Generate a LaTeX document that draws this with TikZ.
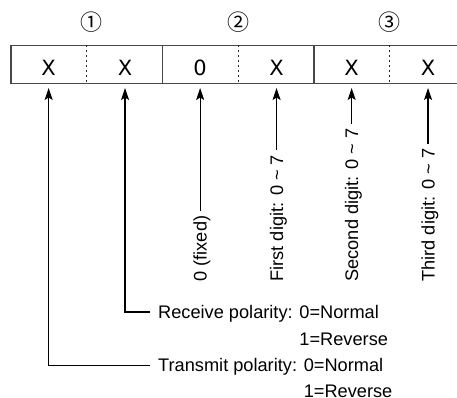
\documentclass[tikz,border=0pt]{standalone}
\usepackage{fontspec}
\setmainfont{Liberation Sans}
\newfontfamily\dvfont{DejaVu Sans}
\newfontfamily\cjkfont{Noto Sans CJK JP}
\usetikzlibrary{arrows.meta,calc}
\tikzset{
  grp/.style={draw=black!72, line width=1.3pt, minimum width=151.5pt, minimum height=37.8pt, inner sep=0pt},
  sepline/.style={draw=black!85, line width=1.2pt, dash pattern=on 2pt off 3pt},
  cellchar/.style={font=\dvfont\fontsize{21}{24}\selectfont, inner sep=0pt, anchor=base},
  grpnum/.style={font=\cjkfont\fontsize{22}{24}\selectfont, inner sep=0pt},
  arr/.style={-{Stealth[length=12pt,width=8pt,inset=2.5pt]}, line width=1.2pt},
  vlabel/.style={rotate=90, anchor=west, inner sep=0pt, font=\fontsize{18.2}{22}\selectfont},
  hlabel/.style={anchor=base west, inner sep=0pt, font=\fontsize{18.2}{22}\selectfont}
}
\begin{document}
\begin{tikzpicture}[x=1pt,y=-1pt]
\useasboundingbox (0,0) rectangle (457,397);
\begin{scope}
\clip (0,0) rectangle (457,397);
% group boxes
\node[grp] (g1) at (86.85,64.5) {};
\node[grp] (g2) at (238.35,64.5) {};
\node[grp] (g3) at (389.85,64.5) {};
\draw[sepline] (g1.north) -- (g1.south);
\draw[sepline] (g2.north) -- (g2.south);
\draw[sepline] (g3.north) -- (g3.south);
% group numbers
\node[grpnum] (n1) at (91,22) {①};
\node[grpnum] (n2) at (g2.center |- 0,22) {②};
\node[grpnum] (n3) at (g3.center |- 0,22) {③};
% cell characters
\node[cellchar] (c1) at ($(g1.west)!0.25!(g1.east)+(0,10.5)$) {X};
\node[cellchar] (c2) at ($(g1.west)!0.75!(g1.east)+(0,10.5)$) {X};
\node[cellchar] (c3) at ($(g2.west)!0.25!(g2.east)+(0,10.5)$) {0};
\node[cellchar] (c4) at ($(g2.west)!0.75!(g2.east)+(0,10.5)$) {X};
\node[cellchar] (c5) at ($(g3.west)!0.25!(g3.east)+(0,10.5)$) {X};
\node[cellchar] (c6) at ($(g3.west)!0.75!(g3.east)+(0,10.5)$) {X};
% arrow tips
\coordinate (t1) at (c1 |- 0,88);
\coordinate (t2) at (c2 |- 0,88);
\coordinate (t3) at (c3 |- 0,88);
\coordinate (t4) at (c4 |- 0,88);
\coordinate (t5) at (c5 |- 0,88);
\coordinate (t6) at (c6 |- 0,88);
% vertical labels
\node[vlabel] (l3) at ($(t3 |- 0,281.7)+(1.8,0)$) {0 (fixed)};
\node[vlabel] (l4) at ($(t4 |- 0,281.7)+(1.8,0)$) {First digit: 0 \textasciitilde\ 7};
\node[vlabel] (l5) at ($(t5 |- 0,281.7)+(1.8,0)$) {Second digit: 0 \textasciitilde\ 7};
\node[vlabel] (l6) at ($(t6 |- 0,281.7)+(1.8,0)$) {Third digit: 0 \textasciitilde\ 7};
\draw[arr, shorten <=4.5pt] (l3.east -| t3) -- (t3);
\draw[arr, shorten <=4.5pt] (l4.east -| t4) -- (t4);
\draw[arr, shorten <=4.5pt] (l5.east -| t5) -- (t5);
\draw[arr, shorten <=4.5pt] (l6.east -| t6) -- (t6);
% horizontal labels
\node[hlabel] (rl) at (158,318.3) {Receive polarity: 0=Normal};
\node[hlabel] (rr) at (158,345.6) {\phantom{Receive polarity: }1=Reverse};
\coordinate (rc) at (150,312);
\draw[arr] (rc) -| (t2);
\node[hlabel] (tl) at (158,371.8) {Transmit polarity: 0=Normal};
\node[hlabel] (tr) at (158,397.2) {\phantom{Transmit polarity: }1=Reverse};
\coordinate (tc) at (150,365.5);
\draw[arr] (tc) -| (t1);
\end{scope}
\end{tikzpicture}
\end{document}
